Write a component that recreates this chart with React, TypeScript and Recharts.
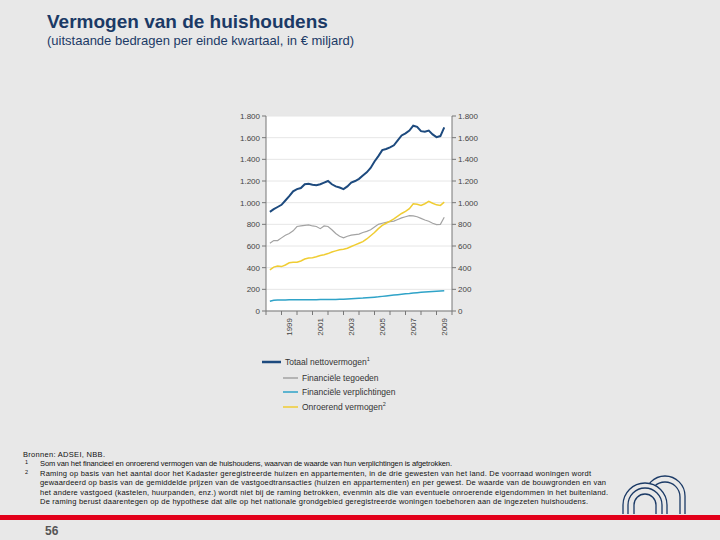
import React from "react";
import { LineChart, Line, XAxis, YAxis, CartesianGrid, Legend } from "recharts";

// quarter ends, 1998 Q1 .. 2009 Q2
const quarters = Array.from({ length: 46 }, (_, i) => 1998.25 + i * 0.25);

const totaal = [
  915, 940, 960, 980, 1020, 1060, 1105, 1125, 1135, 1170, 1175, 1165,
  1160, 1170, 1185, 1200, 1170, 1150, 1140, 1125, 1150, 1185, 1200, 1220,
  1250, 1280, 1320, 1380, 1430, 1485, 1495, 1510, 1530, 1575, 1620, 1640,
  1665, 1710, 1700, 1660, 1655, 1665, 1630, 1605, 1615, 1695,
];
const tegoeden = [
  625, 650, 650, 675, 700, 715, 740, 780, 785, 790, 795, 785,
  780, 760, 785, 780, 750, 715, 690, 675, 690, 700, 705, 710,
  725, 735, 750, 775, 800, 810, 818, 825, 830, 845, 860, 870,
  880, 878, 870, 855, 840, 828, 810, 797, 800, 865,
];
const verplichtingen = [
  90, 100, 101, 102, 102, 103, 103, 104, 104, 104, 105, 105,
  105, 106, 106, 106, 107, 107, 108, 109, 111, 113, 115, 117,
  119, 122, 125, 128, 131, 135, 139, 143, 147, 151, 155, 159,
  162, 166, 169, 172, 175, 178, 180, 182, 184, 186,
];
const onroerend = [
  380, 405, 415, 410, 425, 445, 450, 450, 462, 480, 490, 492,
  500, 512, 520, 530, 545, 555, 565, 570, 580, 595, 610, 625,
  640, 665, 695, 725, 760, 790, 810, 830, 850, 875, 900, 920,
  945, 990, 985, 975, 990, 1012, 995, 980, 975, 1005,
];

const yearTicks = [1998, 1999, 2000, 2001, 2002, 2003, 2004, 2005, 2006, 2007, 2008, 2009, 2010];
const labelYears = [1999, 2001, 2003, 2005, 2007, 2009];
const yTicks = [0, 200, 400, 600, 800, 1000, 1200, 1400, 1600, 1800];

const data = quarters.map((t, i) => ({
  t,
  totaal: totaal[i],
  tegoeden: tegoeden[i],
  verplichtingen: verplichtingen[i],
  onroerend: onroerend[i],
}));

const legendOrder = ["totaal", "tegoeden", "verplichtingen", "onroerend"];
const notes: Record<string, string> = { totaal: "1", onroerend: "2" };

const footnotes = [
  { mark: "", x: 23, len: 82, text: "Bronnen: ADSEI, NBB." },
  { mark: "1", x: 40, len: 412, text: "Som van het financieel en onroerend vermogen van de huishoudens, waarvan de waarde van hun verplichtingen is afgetrokken." },
  { mark: "2", x: 40, len: 551, text: "Raming op basis van het aantal door het Kadaster geregistreerde huizen en appartementen, in de drie gewesten van het land. De voorraad woningen wordt" },
  { mark: "", x: 40, len: 566, text: "gewaardeerd op basis van de gemiddelde prijzen van de vastgoedtransacties (huizen en appartementen) en per gewest. De waarde van de bouwgronden en van" },
  { mark: "", x: 40, len: 568, text: "het andere vastgoed (kastelen, huurpanden, enz.) wordt niet bij de raming betrokken, evenmin als die van eventuele onroerende eigendommen in het buitenland." },
  { mark: "", x: 40, len: 548, text: "De raming berust daarentegen op de hypothese dat alle op het nationale grondgebied geregistreerde woningen toebehoren aan de ingezeten huishoudens." },
];

const font = "'Liberation Sans', Arial, sans-serif";
const fmt = (v: number) => String(v).replace(/\B(?=(\d{3})+(?!\d))/g, ".");

const YearTick = (props: any) => {
  const { x, y, payload } = props;
  const ty = y + 2;
  return (
    <text
      x={x}
      y={ty}
      dy="0.35em"
      textAnchor="end"
      transform={`rotate(-90 ${x} ${ty})`}
      fontSize={8}
      fill="#444"
      fontFamily={font}
    >
      {Math.floor(payload.value)}
    </text>
  );
};

const renderLegend = (props: any) => {
  const rows = [6, 22, 36, 51];
  const items = legendOrder
    .map((k) => (props.payload || []).find((p: any) => p.dataKey === k))
    .filter(Boolean);
  return (
    <svg width={160} height={60}>
      {items.map((p: any, i: number) => {
        const first = i === 0;
        const x0 = first ? 0 : 21;
        const x1 = first ? 19 : 36;
        const tx = first ? 23 : 40;
        const y = rows[i];
        return (
          <g key={p.dataKey}>
            <line x1={x0} x2={x1} y1={y} y2={y} stroke={p.color} strokeWidth={first ? 2.5 : 1.5} />
            <text x={tx} y={y + 3} fontSize={8.5} fill="#333" fontFamily={font}>
              {p.value}
              {notes[p.dataKey] && (
                <tspan fontSize={5.5} dy={-4}>
                  {notes[p.dataKey]}
                </tspan>
              )}
            </text>
          </g>
        );
      })}
    </svg>
  );
};

export default function App() {
  return (
    <div
      style={{
        position: "absolute",
        left: 0,
        top: 0,
        width: 720,
        height: 540,
        background: "#e8e8e8",
        fontFamily: font,
        overflow: "hidden",
      }}
    >
      <svg width={720} height={540} style={{ position: "absolute", left: 0, top: 0 }}>
        <text x={47} y={28} fontSize={19} fontWeight="bold" fill="#1b3a66" fontFamily={font}>
          Vermogen van de huishoudens
        </text>
        <text x={47} y={45} fontSize={13} fill="#1b3a66" fontFamily={font}>
          (uitstaande bedragen per einde kwartaal, in € miljard)
        </text>
        {footnotes.map((f, i) => {
          const by = 456.5 + i * 9.5;
          return (
            <g key={i}>
              {f.mark && (
                <text x={25} y={by - 2} fontSize={5.5} fill="#111" fontFamily={font}>
                  {f.mark}
                </text>
              )}
              <text
                x={f.x}
                y={by}
                fontSize={7.5}
                fill="#111"
                fontFamily={font}
                textLength={f.len}
                lengthAdjust="spacing"
              >
                {f.text}
              </text>
            </g>
          );
        })}
        <g fill="none" stroke="#1b3a66" strokeWidth={1.3}>
          <path d="M645,514 V496 A20,20 0 0 1 685,496 V514" />
          <path d="M650,514 V497 A15,15 0 0 1 680,497 V514" />
        </g>
        <path d="M623,514 V505 A22,22 0 0 1 667,505 V514 Z" fill="#e8e8e8" />
        <g fill="none" stroke="#1b3a66" strokeWidth={1.3}>
          <path d="M623,514 V505 A22,22 0 0 1 667,505 V514" />
          <path d="M628,514 V505 A17,17 0 0 1 662,505 V514" />
          <path d="M634,514 V505 A11,11 0 0 1 656,505 V514" />
        </g>
        <rect x={0} y={515} width={720} height={5} fill="#e2001a" />
        <text x={45} y={535} fontSize={12} fontWeight="bold" fill="#555" fontFamily={font}>
          56
        </text>
      </svg>

      <div style={{ position: "absolute", left: 216, top: 106 }}>
        <LineChart
          width={280}
          height={310}
          data={data}
          margin={{ top: 10, right: 4, left: 0, bottom: 0 }}
          style={{ fontFamily: font }}
        >
          <CartesianGrid yAxisId="left" vertical={false} stroke="#e6e6e6" fill="#ffffff" />
          <XAxis
            dataKey="t"
            type="number"
            domain={[1998, 2010]}
            ticks={yearTicks}
            interval={0}
            allowDataOverflow
            tickFormatter={() => ""}
            tickSize={4}
            height={5}
            stroke="#777"
          />
          <XAxis
            xAxisId="lab"
            dataKey="t"
            type="number"
            domain={[1998, 2010]}
            ticks={labelYears.map((y) => y + 0.5)}
            interval={0}
            allowDataOverflow
            axisLine={false}
            tickLine={false}
            tickSize={0}
            tickMargin={0}
            height={40}
            tick={<YearTick />}
          />
          <YAxis
            yAxisId="left"
            domain={[0, 1800]}
            ticks={yTicks}
            interval={0}
            tickFormatter={fmt}
            width={50}
            tickSize={4}
            tickMargin={2}
            stroke="#777"
            tick={{ fontSize: 8, fill: "#444" }}
          />
          <YAxis
            yAxisId="right"
            orientation="right"
            domain={[0, 1800]}
            ticks={yTicks}
            interval={0}
            allowDataOverflow
            tickFormatter={fmt}
            width={40}
            tickSize={4}
            tickMargin={2}
            stroke="#777"
            tick={{ fontSize: 8, fill: "#444" }}
          />
          <Legend
            verticalAlign="bottom"
            height={60}
            content={renderLegend}
            wrapperStyle={{ left: 46, width: 160, height: 60 }}
          />
          <Line yAxisId="left" dataKey="totaal" name="Totaal nettovermogen" stroke="#1d4a7e" strokeWidth={2} dot={false} isAnimationActive={false} />
          <Line yAxisId="left" dataKey="tegoeden" name="Financiële tegoeden" stroke="#a3a3a3" strokeWidth={1.2} dot={false} isAnimationActive={false} />
          <Line yAxisId="left" dataKey="verplichtingen" name="Financiële verplichtingen" stroke="#2fa3c8" strokeWidth={1.5} dot={false} isAnimationActive={false} />
          <Line yAxisId="left" dataKey="onroerend" name="Onroerend vermogen" stroke="#f0cd33" strokeWidth={1.5} dot={false} isAnimationActive={false} />
          {/* invisible series so the mirrored right-hand axis gets drawn */}
          <Line yAxisId="right" dataKey="totaal" name="mirror" stroke="none" legendType="none" dot={false} activeDot={false} isAnimationActive={false} />
        </LineChart>
      </div>
    </div>
  );
}
